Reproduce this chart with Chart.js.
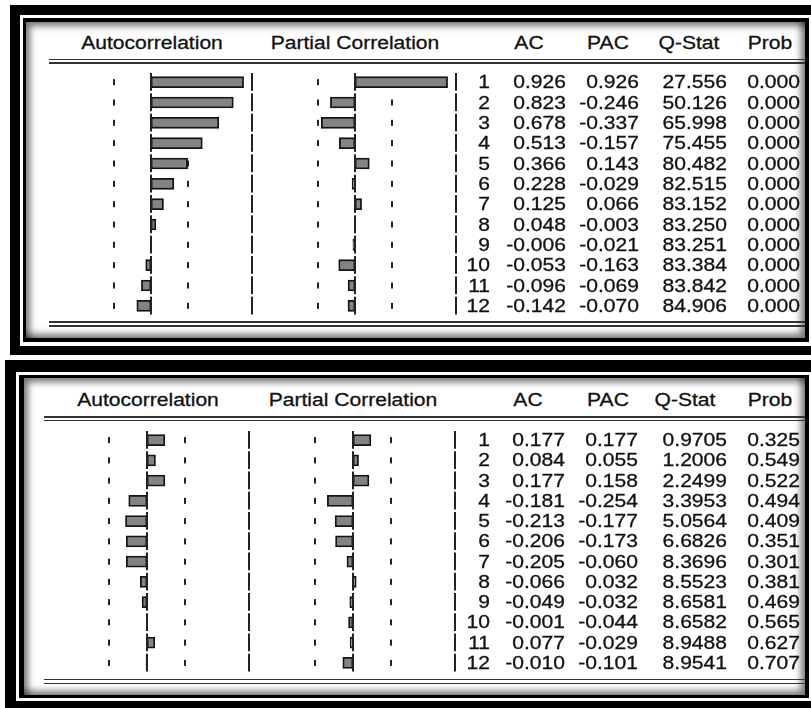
<!DOCTYPE html>
<html>
<head>
<meta charset="utf-8">
<title>Correlogram</title>
<script src="https://cdn.jsdelivr.net/npm/chart.js@4.4.1/dist/chart.umd.min.js"></script>
<style>
  html, body { margin: 0; padding: 0; background: #fff; }
  body {
    width: 811px; height: 708px; position: relative; overflow: hidden;
    font-family: "Liberation Sans", Arial, sans-serif; color: #121212;
  }
  .box { position: absolute; }
  .blk { background: #000; }
  .wht { background: #fff; }
  .inner {
    background: #fff;
    box-shadow: inset 7px 7px 7px -3px rgba(0,0,0,0.55),
                inset -7px -7px 7px -3px rgba(0,0,0,0.55);
  }
  .rule { position: absolute; background: #333; height: 1.6px; z-index: 3; }
  .cv { position: absolute; z-index: 4; }
  .txt {
    position: absolute; font-size: 18px; line-height: 20px; height: 20px;
    white-space: nowrap; transform: scaleX(1.17); z-index: 5;
    -webkit-text-stroke: 0.3px #121212;
  }
</style>
</head>
<body>

<!-- window frames -->
<div class="box blk" style="left:10px;top:5px;width:830px;height:350px"></div>
<div class="box wht" style="left:20px;top:15px;width:792px;height:331px"></div>
<div class="box blk" style="left:23px;top:18px;width:786px;height:324px"></div>
<div class="box inner" style="left:26px;top:22px;width:779px;height:316px"></div>

<div class="box blk" style="left:5px;top:360px;width:840px;height:360px"></div>
<div class="box wht" style="left:16px;top:372px;width:796px;height:329px"></div>
<div class="box blk" style="left:19px;top:375px;width:790px;height:323px"></div>
<div class="box inner" style="left:24px;top:378px;width:781px;height:317px"></div>

<!-- header / footer double rules -->
<div class="rule" style="left:49px;top:58.5px;width:756px"></div>
<div class="rule" style="left:49px;top:62px;width:756px"></div>
<div class="rule" style="left:49px;top:321px;width:756px"></div>
<div class="rule" style="left:49px;top:325px;width:756px"></div>

<div class="rule" style="left:44px;top:416px;width:761px"></div>
<div class="rule" style="left:44px;top:419.5px;width:761px"></div>
<div class="rule" style="left:44px;top:678.5px;width:761px"></div>
<div class="rule" style="left:44px;top:682.5px;width:761px"></div>

<canvas id="acTop" class="cv" width="204" height="244" style="left:49px;top:72px;width:204px;height:244px"></canvas>
<canvas id="pacTop" class="cv" width="204" height="244" style="left:253px;top:72px;width:204px;height:244px"></canvas>
<canvas id="acBot" class="cv" width="206" height="243" style="left:44px;top:430px;width:206px;height:243px"></canvas>
<canvas id="pacBot" class="cv" width="206" height="243" style="left:250px;top:430px;width:206px;height:243px"></canvas>

<script>
(function () {
  'use strict';

  // ── Correlogram values ───────────────────────────────────────────────
  var lags = ['1', '2', '3', '4', '5', '6', '7', '8', '9', '10', '11', '12'];

  var acTop = [0.926, 0.823, 0.678, 0.513, 0.366, 0.228, 0.125, 0.048, -0.006, -0.053, -0.096, -0.142];
  var pacTop = [0.926, -0.246, -0.337, -0.157, 0.143, -0.029, 0.066, -0.003, -0.021, -0.163, -0.069, -0.070];
  var qTop = ['27.556', '50.126', '65.998', '75.455', '80.482', '82.515', '83.152', '83.250', '83.251', '83.384', '83.842', '84.906'];
  var probTop = ['0.000', '0.000', '0.000', '0.000', '0.000', '0.000', '0.000', '0.000', '0.000', '0.000', '0.000', '0.000'];

  var acBot = [0.177, 0.084, 0.177, -0.181, -0.213, -0.206, -0.205, -0.066, -0.049, -0.001, 0.077, -0.010];
  var pacBot = [0.177, 0.055, 0.158, -0.254, -0.177, -0.173, -0.060, 0.032, -0.032, -0.044, -0.029, -0.101];
  var qBot = ['0.9705', '1.2006', '2.2499', '3.3953', '5.0564', '6.6826', '8.3696', '8.5523', '8.6581', '8.6582', '8.9488', '8.9541'];
  var probBot = ['0.325', '0.549', '0.522', '0.494', '0.409', '0.351', '0.301', '0.381', '0.469', '0.565', '0.627', '0.707'];

  // included observations, for the +/- 2/sqrt(T) bands
  var nobsTop = 29;
  var nobsBot = 28;

  var SPAN = 1.02;
  var BAR_FILL = '#838383';
  var BAR_EDGE = '#141414';
  var INK = '#222';

  // ── Bands, zero line and column rule, one segment per lag ────────────
  var bandPlugin = {
    id: 'bands',
    beforeDatasetsDraw: function (chart, args, opts) {
      var ctx = chart.ctx, xs = chart.scales.x, ys = chart.scales.y;
      ctx.save();
      ctx.fillStyle = INK;
      chart.data.labels.forEach(function (_, i) {
        var cy = ys.getPixelForValue(i);
        [-opts.bound, opts.bound].forEach(function (b) {
          var bx = Math.round(xs.getPixelForValue(b));
          ctx.fillRect(bx - 1, cy - 3, 2, 6);
        });
      });
      ctx.restore();
    },
    afterDatasetsDraw: function (chart, args, opts) {
      var ctx = chart.ctx, xs = chart.scales.x, ys = chart.scales.y;
      var half = (ys.getPixelForValue(1) - ys.getPixelForValue(0)) / 2;
      var zx = Math.round(xs.getPixelForValue(0));
      var rx = chart.chartArea.right;
      ctx.save();
      ctx.fillStyle = INK;
      chart.data.labels.forEach(function (_, i) {
        var cy = ys.getPixelForValue(i);
        ctx.fillRect(zx - 1, cy - half + 1, 2, half * 2 - 2.5);
        ctx.fillRect(rx - 2, cy - half + 1, 2, half * 2 - 2.5);
      });
      ctx.restore();
    }
  };

  function corrChart(id, values, nobs) {
    var canvas = document.getElementById(id);
    return new Chart(canvas.getContext('2d'), {
      type: 'bar',
      data: {
        labels: lags,
        datasets: [{
          data: values,
          backgroundColor: BAR_FILL,
          borderColor: BAR_EDGE,
          borderWidth: 1.8,
          borderSkipped: false,
          barThickness: 11
        }]
      },
      options: {
        indexAxis: 'y',
        responsive: false,
        maintainAspectRatio: false,
        animation: false,
        events: [],
        layout: { padding: 0 },
        plugins: {
          legend: { display: false },
          tooltip: { enabled: false },
          bands: { bound: 2 / Math.sqrt(nobs) }
        },
        scales: {
          x: { type: 'linear', min: -SPAN, max: SPAN, display: false },
          y: { type: 'category', offset: true, display: false }
        }
      },
      plugins: [bandPlugin]
    });
  }

  // ── Table text ───────────────────────────────────────────────────────
  function putText(str, x, y, align) {
    var s = document.createElement('span');
    s.className = 'txt';
    s.textContent = str;
    if (align === 'right') {
      s.style.left = (x - 200) + 'px';
      s.style.width = '200px';
      s.style.textAlign = 'right';
      s.style.transformOrigin = 'right center';
    } else {
      s.style.left = (x - 150) + 'px';
      s.style.width = '300px';
      s.style.textAlign = 'center';
      s.style.transformOrigin = 'center center';
    }
    s.style.top = (y - 10) + 'px';
    document.body.appendChild(s);
  }

  function fmt(v) { return v.toFixed(3); }

  function panel(cfg) {
    var ac = corrChart(cfg.acId, cfg.ac, cfg.nobs);
    corrChart(cfg.pacId, cfg.pac, cfg.nobs);

    var head = cfg.head;
    putText('Autocorrelation', head.acx, head.y, 'center');
    putText('Partial Correlation', head.pacx, head.y, 'center');
    putText('AC', head.cols[0], head.y, 'center');
    putText('PAC', head.cols[1], head.y, 'center');
    putText('Q-Stat', head.cols[2], head.y, 'center');
    putText('Prob', head.cols[3], head.y, 'center');

    var top = ac.canvas.offsetTop;
    var r = cfg.right;
    lags.forEach(function (lag, i) {
      var y = top + ac.scales.y.getPixelForValue(i);
      putText(lag, r[0], y, 'right');
      putText(fmt(cfg.ac[i]), r[1], y, 'right');
      putText(fmt(cfg.pac[i]), r[2], y, 'right');
      putText(cfg.q[i], r[3], y, 'right');
      putText(cfg.prob[i], r[4], y, 'right');
    });
  }

  panel({
    acId: 'acTop', pacId: 'pacTop',
    ac: acTop, pac: pacTop, q: qTop, prob: probTop, nobs: nobsTop,
    head: { y: 43, acx: 152, pacx: 355, cols: [529, 608, 689, 770] },
    right: [490, 566, 639, 727, 800]
  });

  panel({
    acId: 'acBot', pacId: 'pacBot',
    ac: acBot, pac: pacBot, q: qBot, prob: probBot, nobs: nobsBot,
    head: { y: 400, acx: 148, pacx: 353, cols: [528, 608, 685, 770] },
    right: [490, 565, 638, 727, 800]
  });
})();
</script>
</body>
</html>
